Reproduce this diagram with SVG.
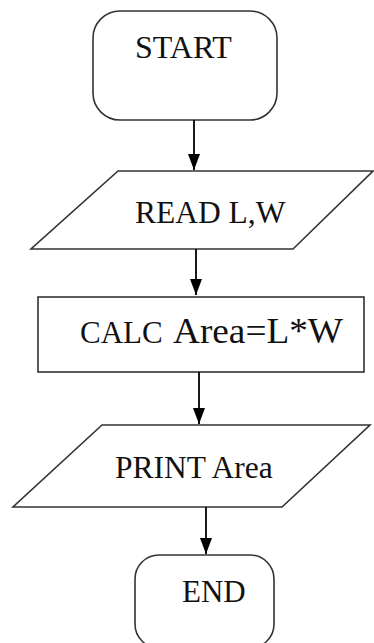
<svg xmlns="http://www.w3.org/2000/svg" width="374" height="643" viewBox="0 0 374 643">
<style>
.shape{fill:#fff;stroke:#333;stroke-width:1.6}
.lbl{font-family:"Liberation Serif","Times New Roman",serif;fill:#111}
.conn line{stroke:#000;stroke-width:1.8}
</style>
<defs>
<marker id="ah" viewBox="0 0 12 16" refX="6" refY="16" markerWidth="12" markerHeight="16" markerUnits="userSpaceOnUse" orient="auto-start-reverse">
<path d="M0,0 L12,0 L6,16 Z" fill="#000" transform="rotate(0)"/>
</marker>
<marker id="ahd" viewBox="0 0 16 12" refX="16" refY="6" markerWidth="16" markerHeight="12" markerUnits="userSpaceOnUse" orient="auto">
<path d="M0,0 L16,6 L0,12 Z" fill="#000"/>
</marker>
</defs>
<rect width="374" height="643" fill="#fff"/>
<g id="start">
<rect class="shape" x="93" y="11" width="184" height="109" rx="27"/>
<text class="lbl" x="135" y="58" font-size="32">START</text>
</g>
<g id="read">
<polygon class="shape" points="118,171 373,171 293,249 31,249"/>
<text class="lbl" x="135" y="223" font-size="31.5">READ L,W</text>
</g>
<g id="calc">
<rect class="shape" x="38" y="297" width="326" height="75"/>
<text class="lbl" x="80" y="343" font-size="31">CALC</text>
<text class="lbl" x="173" y="343" font-size="35" textLength="170" lengthAdjust="spacingAndGlyphs">Area=L*W</text>
</g>
<g id="print">
<polygon class="shape" points="102,425 370,425 282,507 13,507"/>
<text class="lbl" x="115" y="478" font-size="31.5">PRINT Area</text>
</g>
<g id="end">
<rect class="shape" x="135" y="555" width="139" height="93" rx="24"/>
<text class="lbl" x="182" y="602" font-size="31">END</text>
</g>
<g class="conn">
<line x1="194" y1="120" x2="194" y2="170" marker-end="url(#ahd)"/>
<line x1="196" y1="249" x2="196" y2="295" marker-end="url(#ahd)"/>
<line x1="199" y1="372" x2="199" y2="424" marker-end="url(#ahd)"/>
<line x1="206" y1="507" x2="206" y2="554" marker-end="url(#ahd)"/>
</g>
</svg>
